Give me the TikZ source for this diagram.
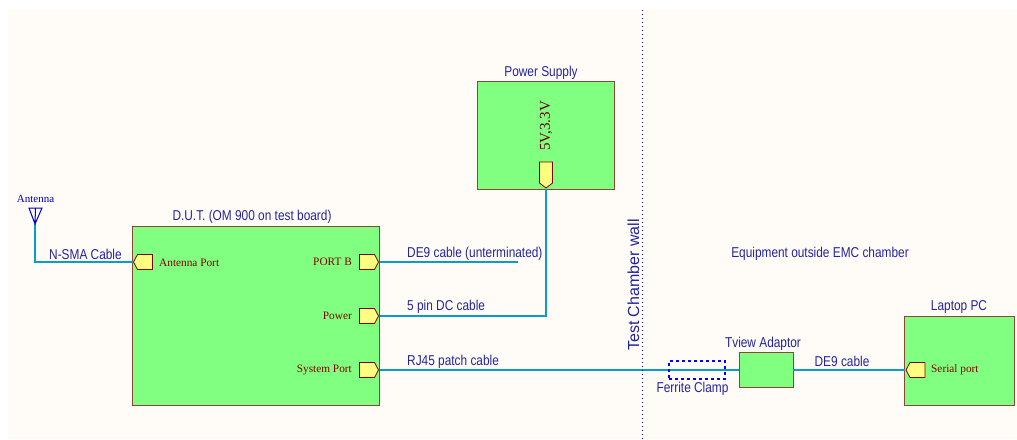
\documentclass[tikz,border=0pt]{standalone}
\usepackage{fontspec}
\setmainfont{Liberation Serif}
\setsansfont[FakeStretch=.83]{Liberation Sans}
\newfontfamily\wallfont{Liberation Sans}
\definecolor{chamberbg}{HTML}{FFFCF8}
\definecolor{unitgreen}{HTML}{80FF80}
\definecolor{unitedge}{HTML}{8B4636}
\definecolor{portfill}{HTML}{FFFF80}
\definecolor{cablecol}{HTML}{0A9CCB}
\definecolor{labelcol}{HTML}{24249A}
\definecolor{portcol}{HTML}{800000}
\tikzset{
    unitbox/.style={draw=unitedge,fill=unitgreen,line width=1pt,inner sep=0pt,outer sep=0pt},
    cable/.style={draw=cablecol,line width=2pt},
    portshape/.style={draw=portcol,fill=portfill,line width=.8pt,line join=miter},
    lbl/.style={font=\sffamily\fontsize{14.3}{16}\selectfont,text=labelcol,inner sep=0pt},
    portlbl/.style={font=\fontsize{11.3}{13}\selectfont,text=portcol,inner sep=0pt},
}
\begin{document}
\begin{tikzpicture}[x=1pt,y=-1pt]
        \useasboundingbox (0,0) rectangle (1017,439);
        \fill[chamberbg] (8,10) rectangle (1017,439);
        % units
        \node (dut) at (256,315.5)[unitbox,minimum width=247,minimum height=179]{};
        \node (supply) at (545.5,135)[unitbox,minimum width=137,minimum height=108]{};
        \node (tview) at (766,369.5)[unitbox,minimum width=54,minimum height=35]{};
        \node (laptop) at (959,360.5)[unitbox,minimum width=110,minimum height=89]{};
        % port tips
        \coordinate (antport) at (132.5,262);
        \coordinate (portb) at (379.5,262);
        \coordinate (power) at (379.5,316);
        \coordinate (sysport) at (379.5,370);
        \coordinate (serial) at (905,370);
        \coordinate (supplyout) at (546,189);
        \coordinate (anttip) at (35,224);
        \coordinate (deend) at (518,262);
        \coordinate (walltop) at (642,10);
        \coordinate (wallend) at (642,439);
        % cables
        \draw[cable] (anttip) |- (antport);
        \draw[cable] (portb) -- (deend);
        \draw[cable,line width=1.5pt] (supplyout) |- (power);
        \draw[cable] (sysport) -- (tview.west |- sysport);
        \draw[cable] (tview.east |- serial) -- (serial);
        % ports
        \foreach \p in {portb,power,sysport}
            \draw[portshape] (\p)++(-1,0) -- ++(-4,-7.5) -- ++(-15,0) -- ++(0,15) -- ++(15,0) -- cycle;
        \foreach \p in {antport,serial}
            \draw[portshape] (\p)++(1,0) -- ++(4,-7.5) -- ++(15,0) -- ++(0,15) -- ++(-15,0) -- cycle;
        \draw[portshape] (supplyout)++(0,-1) -- ++(-6.5,-5) -- ++(0,-21) -- ++(13,0) -- ++(0,21) -- cycle;
        % antenna
        \draw[blue!80!black,line width=1pt] (29,208) -- (42,208) -- (anttip) -- cycle (35.5,208) -- (anttip);
        % wall and clamp
        \draw[blue!70!black,line width=1pt,dash pattern=on 1pt off 3pt] (walltop) -- (wallend);
        \node (clamp) at (697,370)[draw=blue,line width=1.2pt,dashed,minimum width=56,minimum height=18,inner sep=0pt]{};
        % labels
        \node (antlbl) at (35.5,199)[lbl,font=\fontsize{11}{12}\selectfont,text=blue!75!black]{Antenna};
        \node (nsma) at (49,254)[lbl,right]{N-SMA Cable};
        \node (dutlbl) at (252,217)[lbl]{D.U.T. (OM 900 on test board)};
        \node (supplylbl) at (541,73)[lbl]{Power Supply};
        \node (delbl) at (407,254)[lbl,right]{DE9 cable (unterminated)};
        \node (dclbl) at (407,307)[lbl,right]{5 pin DC cable};
        \node (rjlbl) at (407,362)[lbl,right]{RJ45 patch cable};
        \node (walllbl) at (633.5,285)[lbl,font=\wallfont\fontsize{16}{18}\selectfont,rotate=90]{Test Chamber wall};
        \node (eqlbl) at (820,254)[lbl]{Equipment outside EMC chamber};
        \node (tviewlbl) at (763,344)[lbl]{Tview Adaptor};
        \node (clamplbl) at (692.5,389)[lbl]{Ferrite Clamp};
        \node (de2lbl) at (842,361)[lbl]{DE9 cable};
        \node (laptoplbl) at (959,307)[lbl]{Laptop PC};
        \node (antplbl) at (159,263)[portlbl,right]{Antenna Port};
        \node (pblbl) at (352,262)[portlbl,left]{PORT B};
        \node (pwlbl) at (352,316)[portlbl,left]{Power};
        \node (syslbl) at (352,370)[portlbl,left]{System Port};
        \node (serlbl) at (931,370)[portlbl,right]{Serial port};
        \node (vlbl) at (546,126)[portlbl,font=\fontsize{15}{17}\selectfont,text=portcol!80!black,rotate=90]{5V,3.3V};
    \end{tikzpicture}
\end{document}
